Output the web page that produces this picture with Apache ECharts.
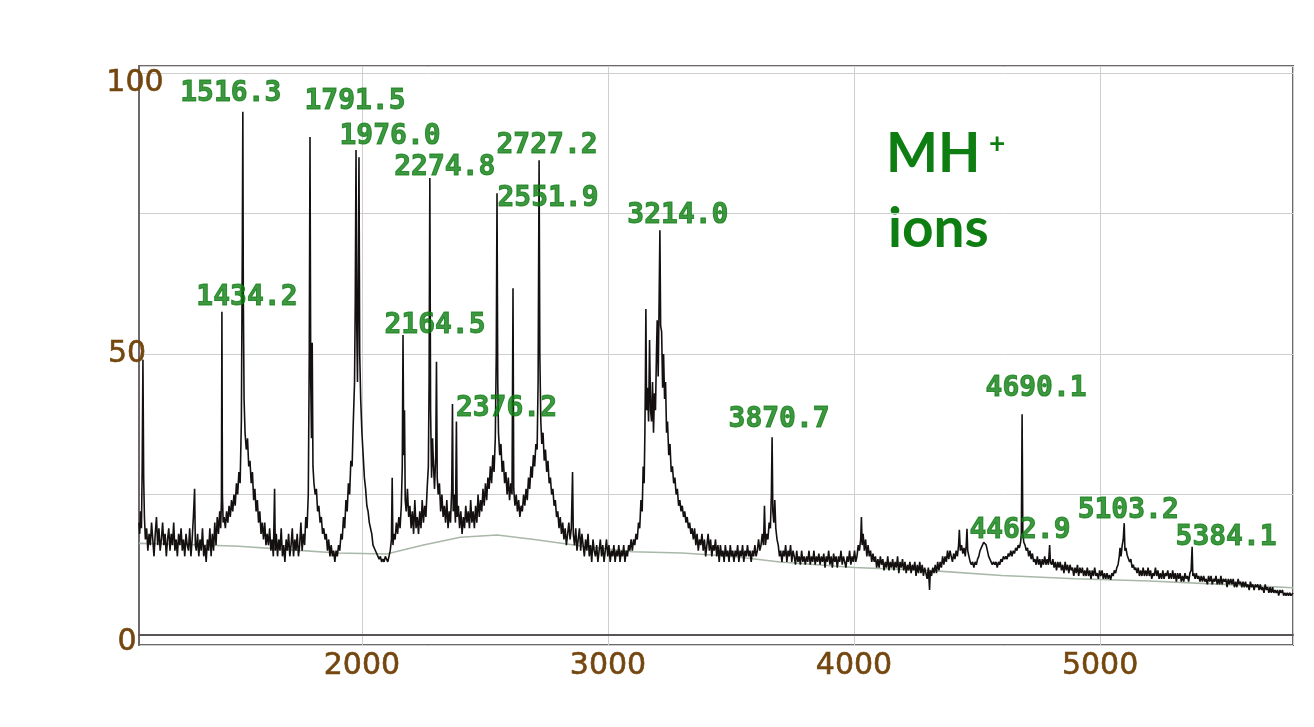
<!DOCTYPE html>
<html><head><meta charset="utf-8">
<script src="https://cdn.jsdelivr.net/npm/echarts@6/dist/echarts.min.js"></script>
<style>html,body{margin:0;padding:0;background:#ffffff}#c{width:1314px;height:727px}</style>
</head><body><div id="c"></div>
<script>
// ---- data ----
const xTickLabels = [2000, 3000, 4000, 5000];
const yTickLabels = [0, 50, 100];

const spectrum = [
[1094,20],[1097,18],[1100,22],[1104,19],[1107,30],[1110,49],[1113,28],[1116,21],[1120,17],[1125,19],[1130,15],[1135,18],[1140,16],[1145,20],[1150,17],[1155,14],[1160,18],[1165,21],[1170,16],[1175,19],[1180,15],[1185,17],[1190,20],[1195,16],[1200,18],[1205,14],[1210,17],[1215,19],[1220,15],[1225,18],[1230,16],[1235,20],[1240,15],[1245,17],[1250,14],[1255,18],[1260,16],[1265,19],[1270,15],[1275,17],[1280,14],[1285,18],[1290,16],[1295,15],[1300,19],[1305,14],[1310,17],[1315,21],[1320,26],[1323,16],[1327,15],[1332,18],[1337,14],[1342,17],[1347,15],[1352,19],[1357,14],[1362,16],[1367,13],[1372,17],[1377,15],[1382,19],[1387,14],[1392,18],[1397,15],[1402,20],[1407,16],[1412,21],[1417,18],[1422,22],[1426,19],[1429,24],[1431,57.5],[1433,25],[1436,20],[1440,21],[1445,19],[1450,22],[1455,20],[1460,23],[1465,21],[1470,24],[1475,22],[1480,25],[1485,23],[1490,27],[1495,25],[1500,29],[1505,27],[1510,38],[1514,70],[1516,93.1],[1518,60],[1521,42],[1525,36],[1530,33],[1535,35],[1540,30],[1545,31],[1550,27],[1555,29],[1560,24],[1565,26],[1570,22],[1575,24],[1580,20],[1585,22],[1590,18],[1595,20],[1600,17],[1605,20],[1610,16],[1615,18],[1620,16],[1625,19],[1630,15],[1635,17],[1640,14],[1645,26],[1648,15],[1652,18],[1657,14],[1662,17],[1667,15],[1672,19],[1677,14],[1682,16],[1687,13],[1692,17],[1697,15],[1702,18],[1707,14],[1712,16],[1717,19],[1722,14],[1727,17],[1732,15],[1737,18],[1742,14],[1747,16],[1752,20],[1757,15],[1762,18],[1767,16],[1772,21],[1777,19],[1782,25],[1786,50],[1789,88.6],[1792,45],[1795,35],[1798,52],[1801,30],[1805,27],[1810,25],[1815,26],[1820,22],[1825,23],[1830,20],[1835,21],[1840,18],[1845,19],[1850,17],[1855,18],[1860,15],[1865,17],[1870,14],[1875,16],[1880,14],[1885,15],[1890,13],[1895,15],[1900,14],[1905,16],[1910,15],[1915,18],[1920,17],[1925,21],[1930,19],[1935,24],[1940,22],[1945,27],[1950,25],[1955,31],[1960,30],[1965,38],[1970,45],[1973,60],[1976,86.3],[1979,55],[1982,45],[1985,62],[1988,85],[1991,50],[1995,42],[2000,36],[2005,32],[2010,28],[2015,26],[2020,23],[2025,22],[2030,20],[2035,19],[2040,18],[2045,16],[2050,16],[2055,15],[2060,14.5],[2065,14],[2070,13.5],[2075,14],[2080,13],[2085,13.5],[2090,13],[2095,14],[2100,13.5],[2105,13],[2110,14],[2115,15],[2120,17],[2123,28],[2126,16],[2130,18],[2135,17],[2140,20],[2145,18],[2150,21],[2155,19],[2160,23],[2164,30],[2167,53.4],[2170,32],[2173,40],[2176,24],[2180,22],[2185,26],[2190,21],[2195,23],[2200,19],[2205,22],[2210,18],[2215,24],[2220,19],[2225,21],[2230,18],[2235,22],[2240,19],[2245,24],[2250,20],[2255,23],[2260,21],[2265,26],[2270,30],[2273,45],[2276,81.3],[2279,40],[2283,28],[2287,35],[2291,30],[2295,26],[2300,32],[2303,48.6],[2306,28],[2310,25],[2315,27],[2320,22],[2325,25],[2330,21],[2335,23],[2340,20],[2345,24],[2350,19],[2355,22],[2360,20],[2365,26],[2368,41.1],[2371,22],[2375,25],[2380,20],[2384,38],[2387,21],[2392,23],[2397,19],[2402,22],[2407,18],[2412,21],[2417,19],[2422,23],[2427,20],[2432,22],[2437,19],[2442,24],[2447,20],[2452,22],[2457,19],[2462,23],[2467,20],[2472,25],[2477,21],[2482,24],[2487,22],[2492,26],[2497,23],[2502,27],[2507,24],[2512,28],[2517,26],[2522,30],[2527,27],[2532,32],[2537,29],[2542,35],[2546,50],[2549,78.6],[2552,45],[2555,36],[2560,32],[2565,34],[2570,29],[2575,31],[2580,27],[2585,29],[2590,25],[2595,28],[2600,24],[2605,27],[2610,25],[2614,61.7],[2617,26],[2622,23],[2627,25],[2632,22],[2637,24],[2642,21],[2647,23],[2652,22],[2657,25],[2662,23],[2667,26],[2672,24],[2677,28],[2682,26],[2687,30],[2692,28],[2697,32],[2702,30],[2707,34],[2712,33],[2716,45],[2720,84.5],[2723,50],[2727,38],[2731,34],[2736,36],[2741,31],[2746,33],[2751,29],[2756,31],[2761,27],[2766,28],[2771,25],[2776,26],[2781,23],[2786,24],[2791,21],[2796,22],[2801,19],[2806,21],[2811,18],[2816,20],[2821,17],[2826,19],[2831,16],[2836,18],[2841,20],[2846,17],[2851,19],[2856,29],[2859,18],[2864,16],[2869,19],[2874,15],[2879,17],[2884,19],[2889,15],[2894,18],[2899,16],[2904,14],[2909,17],[2914,15],[2919,18],[2924,14],[2929,16],[2934,13],[2939,17],[2944,15],[2949,14],[2954,16],[2959,13],[2964,15],[2969,17],[2974,14],[2979,16],[2984,13],[2989,15],[2994,17],[2999,14],[3004,16],[3009,13],[3014,15],[3019,14],[3024,16],[3029,13],[3034,15],[3039,14],[3044,16],[3049,13],[3054,15],[3059,14],[3064,16],[3069,13],[3074,15],[3079,14],[3084,16],[3089,15],[3094,17],[3099,15],[3104,17],[3109,16],[3114,18],[3119,17],[3124,20],[3129,19],[3134,24],[3139,22],[3143,30],[3147,27],[3150,36],[3152,45],[3154,58],[3157,40],[3161,44],[3165,38],[3169,52.5],[3173,40],[3177,38],[3181,45],[3185,36],[3189,43],[3193,40],[3197,50],[3200,56],[3204,46],[3208,60],[3211,72],[3214,55],[3218,54],[3222,44],[3226,50],[3230,42],[3234,45],[3238,36],[3242,38],[3247,32],[3252,34],[3257,29],[3262,30],[3267,27],[3272,28],[3277,25],[3282,26],[3287,23],[3292,24],[3297,22],[3302,23],[3307,21],[3312,22],[3317,20],[3322,21],[3327,19],[3332,20],[3337,18],[3342,19],[3347,17],[3352,19],[3357,16],[3362,18],[3367,15],[3372,17],[3377,16],[3382,18],[3387,15],[3392,17],[3397,14],[3402,16],[3407,18],[3412,15],[3417,17],[3422,14],[3427,16],[3432,15],[3437,17],[3442,14],[3447,16],[3452,13],[3457,16],[3462,14],[3467,15],[3472,13],[3477,16],[3482,14],[3487,15],[3492,13],[3497,16],[3502,14],[3507,15],[3512,13],[3517,15],[3522,14],[3527,16],[3532,13],[3537,15],[3542,14],[3547,16],[3552,13],[3557,15],[3562,14],[3567,16],[3572,14],[3577,15],[3582,13],[3587,15],[3592,14],[3597,16],[3602,14],[3607,15],[3612,17],[3617,15],[3622,16],[3627,18],[3632,16],[3636,23],[3640,16],[3645,18],[3650,17],[3655,20],[3660,19],[3664,25],[3667,35.2],[3670,22],[3674,20],[3678,24],[3682,19],[3687,17],[3692,16],[3697,14],[3702,15],[3707,13],[3712,15],[3717,14],[3722,16],[3727,13],[3732,15],[3737,14],[3742,16],[3747,13],[3752,15],[3757,14],[3762,12.5],[3767,15],[3772,13],[3777,14],[3782,12.5],[3787,15],[3792,13],[3797,14],[3802,12.5],[3807,14],[3812,13],[3817,15],[3822,12.5],[3827,14],[3832,13],[3837,15],[3842,12.5],[3847,14],[3852,13],[3857,14.5],[3862,12.5],[3867,14],[3872,13],[3877,14.5],[3882,12],[3887,14],[3892,13],[3897,15],[3902,12.5],[3907,14],[3912,12],[3917,14.5],[3922,13],[3927,14],[3932,12],[3937,14],[3942,13],[3947,15],[3952,12.5],[3957,14],[3962,13],[3967,12],[3972,14],[3977,13],[3982,15],[3987,12.5],[3992,14],[3997,13],[4002,15],[4007,13],[4012,14],[4017,16],[4022,15],[4027,17],[4030,21],[4033,16],[4037,18],[4042,15],[4047,17],[4052,14],[4057,16],[4062,14],[4067,15],[4072,13],[4077,14.5],[4082,13],[4087,14],[4092,12],[4097,13.5],[4102,12],[4107,14],[4112,12.5],[4117,13.5],[4122,11.5],[4127,13],[4132,12],[4137,14],[4142,11.5],[4147,13],[4152,12],[4157,13.5],[4162,11.5],[4167,13],[4172,12],[4177,14],[4182,11],[4187,13],[4192,12],[4197,13.5],[4202,11.5],[4207,13],[4212,11],[4217,12.5],[4222,11.5],[4227,13],[4232,11],[4237,12.5],[4242,11.5],[4247,13],[4252,10.5],[4257,12.5],[4262,11],[4267,13],[4272,11],[4277,12.5],[4282,10.5],[4287,12],[4292,11],[4297,10],[4302,12],[4307,8],[4310,11.5],[4315,10.5],[4320,12],[4325,11],[4330,12.5],[4335,11],[4340,13],[4345,11.5],[4350,13],[4355,12],[4360,14],[4365,12.5],[4370,14],[4375,13],[4380,15],[4385,13.5],[4390,15],[4395,14],[4400,13],[4405,14.5],[4410,13.5],[4415,15],[4420,14],[4425,16],[4428,18.7],[4432,15],[4437,16],[4442,14.5],[4447,15.5],[4452,14],[4456,16],[4459,18.9],[4462,15],[4467,14],[4472,13],[4477,12.5],[4482,13],[4487,12],[4492,13],[4497,12.5],[4502,13.5],[4507,14],[4512,15],[4517,15.5],[4522,16],[4527,16.5],[4532,16.4],[4537,16],[4542,15],[4547,14],[4552,13.5],[4557,13],[4562,12.5],[4567,13],[4572,12.5],[4577,13],[4582,12],[4587,13],[4592,12.5],[4597,13.5],[4602,13],[4607,14],[4612,13.5],[4617,14],[4622,13.5],[4627,14.5],[4632,14],[4637,15],[4642,14],[4647,15],[4652,14.5],[4657,15.5],[4662,15],[4667,16],[4672,15.5],[4677,16.5],[4680,18],[4683,39.3],[4686,18],[4690,16.5],[4695,16],[4700,15],[4705,15.5],[4710,14],[4715,15],[4720,13.5],[4725,14.5],[4730,13],[4735,13.5],[4740,12.5],[4745,14],[4750,12.5],[4755,13.5],[4760,12],[4765,13.5],[4770,12.5],[4775,14],[4780,12.5],[4785,13.5],[4790,12.5],[4795,16],[4798,13],[4803,12.5],[4808,13.5],[4813,12],[4818,13],[4823,11.5],[4828,13],[4833,12],[4838,13],[4843,11.5],[4848,12.5],[4853,11],[4858,13],[4863,11.5],[4868,12.5],[4873,11],[4878,12.5],[4883,11.5],[4888,12],[4893,10.5],[4898,12],[4903,11],[4908,12.5],[4913,10.5],[4918,12],[4923,11],[4928,12],[4933,10.5],[4938,11.5],[4943,10.5],[4948,12],[4953,10.5],[4958,11.5],[4963,10],[4968,11.5],[4973,10.5],[4978,12],[4983,10.5],[4988,11],[4993,10],[4998,11.5],[5003,10.5],[5008,11.5],[5013,10],[5018,11],[5023,10],[5028,11],[5033,10],[5038,10.7],[5043,9.8],[5048,11],[5053,10.5],[5058,11.5],[5063,11],[5068,12],[5073,12.5],[5078,14],[5081,15.5],[5085,14],[5090,16],[5094,17],[5098,19.9],[5101,15],[5105,15.5],[5110,14.2],[5115,14.5],[5120,13],[5125,13.5],[5130,12],[5135,12.5],[5140,11.6],[5145,12],[5150,11],[5155,12],[5160,10.5],[5165,11.5],[5170,10.5],[5175,12],[5180,10.5],[5185,11.5],[5190,10.5],[5195,12],[5200,10.5],[5205,11.5],[5210,10],[5215,11],[5220,10.5],[5225,12],[5230,10.5],[5235,11.5],[5240,10],[5245,11],[5250,10],[5255,11.5],[5260,10],[5265,11],[5270,10.5],[5275,11.5],[5280,10],[5285,11],[5290,10],[5295,11.5],[5300,10],[5305,11],[5310,9.5],[5315,11],[5320,10],[5325,11],[5330,9.5],[5335,10.5],[5340,9.5],[5345,11],[5350,10],[5355,10.5],[5360,9.5],[5365,11],[5370,11.5],[5374,15.7],[5377,10.5],[5381,11],[5386,10],[5391,11],[5396,10],[5401,10.5],[5406,9.5],[5411,10.5],[5416,9.5],[5421,10.5],[5426,9.5],[5431,10],[5436,9],[5441,10.5],[5446,9.5],[5451,10.5],[5456,9],[5461,10],[5466,9.5],[5471,10.5],[5476,9],[5481,10],[5486,9],[5491,10.5],[5496,9],[5501,10],[5506,9.5],[5511,10],[5516,8.5],[5521,10],[5526,9],[5531,10],[5536,9],[5541,10],[5546,8.5],[5551,9.5],[5556,8.5],[5561,10],[5566,9],[5571,9.5],[5576,8.5],[5581,9.5],[5586,8.5],[5591,9.5],[5596,8.5],[5601,9],[5606,8],[5611,9.5],[5616,8.5],[5621,9],[5626,8],[5631,9],[5636,8.5],[5641,9],[5646,8],[5651,9],[5656,8],[5661,8.5],[5666,7.5],[5671,9],[5676,8],[5681,8.5],[5686,7.5],[5691,8.5],[5696,7.5],[5701,8.5],[5706,7.5],[5711,8],[5716,7.5],[5721,8],[5726,7],[5731,8],[5736,7.5],[5741,8],[5746,7],[5751,7.5],[5756,7],[5761,7.5],[5766,7],[5771,7.5],[5776,7],[5784,7.5]
];

const baseline = [
[1094,16.3],[1300,16.1],[1500,15.8],[1700,15.2],[1900,14.6],[2100,14.4],[2250,16.0],[2400,17.4],[2550,17.8],[2700,17.0],[2900,15.8],[3100,14.8],[3300,14.6],[3500,14.0],[3700,13.0],[4000,12.0],[4300,11.5],[4600,10.6],[4900,10.0],[5200,9.6],[5500,9.0],[5784,8.4]
];

const peakLabels = ['1434.2','1516.3','1791.5','1976.0','2164.5','2274.8','2376.2','2551.9','2727.2','3214.0','3870.7','4462.9','4690.1','5103.2','5384.1'];
const peakMz     = [1431, 1516, 1789, 1976, 2167, 2276, 2368, 2549, 2720, 3211, 3667, 4459, 4683, 5098, 5374];
const peakHeight = [57.5, 93.1, 88.6, 86.3, 53.4, 81.3, 41.1, 78.6, 84.5, 72, 35.2, 18.9, 39.3, 19.9, 15.7];

// ---- layout / style ----
const labelOffsets = [[25,-14],[-12,-18],[45,-35],[34,-13],[32,-9],[15,-10],[54,5],[51,5],[8,-14],[18,-15],[7,-17],[53,2],[14,-25],[4,-12],[34,-9]];
const GREEN = '#0e7d12';
const BROWN = '#74470f';

const chart = echarts.init(document.getElementById('c'), null, {renderer: 'canvas'});

const labelData = peakMz.map((m, i) => ({
  value: [m, peakHeight[i]],
  name: peakLabels[i],
  label: {offset: labelOffsets[i]}
}));

chart.setOption({
  animation: false,
  backgroundColor: '#ffffff',
  grid: {left: 139, right: 21, top: 66, bottom: 82, show: true, borderColor: '#6f6868', borderWidth: 2, backgroundColor: '#ffffff'},
  xAxis: {
    type: 'value', min: 1094, max: 5784, minInterval: 1000, maxInterval: 1000,
    axisLine: {show: true, lineStyle: {color: '#5a5555', width: 2}},
    axisTick: {show: false},
    splitLine: {show: true, lineStyle: {color: '#cfcfcf', width: 1}},
    axisLabel: {
      show: true, showMinLabel: false, showMaxLabel: false, margin: 6,
      color: BROWN, fontFamily: 'DejaVu Sans', fontSize: 30,
      textBorderColor: BROWN, textBorderWidth: 0.6,
      formatter: v => xTickLabels.includes(v) ? String(v) : ''
    }
  },
  yAxis: {
    type: 'value', min: -1.78, max: 101.25, minInterval: 25, maxInterval: 25,
    axisLine: {show: true, lineStyle: {color: '#6f6868', width: 2}},
    axisTick: {show: false},
    splitLine: {show: true, lineStyle: {color: '#cfcfcf', width: 1}},
    axisLabel: {
      show: true, showMinLabel: false, showMaxLabel: false, margin: 12, align: 'center',
      color: BROWN, fontFamily: 'DejaVu Sans', fontSize: 30,
      textBorderColor: BROWN, textBorderWidth: 0.6,
      formatter: v => {
        if (!yTickLabels.includes(v)) return '';
        if (v === 100) return '{hi|' + v + '}';
        if (v === 0) return '{lo|' + v + '}';
        return String(v);
      },
      rich: {
        hi: {fontFamily: 'DejaVu Sans', fontSize: 30, color: BROWN, textBorderColor: BROWN, textBorderWidth: 0.6, padding: [20, 0, 0, 16]},
        lo: {fontFamily: 'DejaVu Sans', fontSize: 30, color: BROWN, textBorderColor: BROWN, textBorderWidth: 0.6, padding: [14, 0, 0, 0]}
      }
    }
  },
  series: [
    {
      type: 'line', data: baseline, showSymbol: false, silent: true, z: 2,
      lineStyle: {color: '#a9b8a9', width: 1.6}
    },
    {
      type: 'line', data: spectrum, showSymbol: false, silent: true, z: 3,
      lineStyle: {color: '#141010', width: 1.6}
    },
    {
      type: 'scatter', data: labelData, symbolSize: 0, z: 5, silent: true,
      label: {
        show: true, position: 'inside', formatter: p => p.name,
        color: GREEN, fontFamily: 'DejaVu Sans Mono', fontWeight: 'bold', fontSize: 28,
        textBorderColor: GREEN, textBorderWidth: 1
      }
    }
  ],
  graphic: [
    {type: 'text', x: 886, y: 154, style: {text: 'MH', fill: GREEN, font: 'bold 55px Lato', textAlign: 'left', textVerticalAlign: 'middle'}},
    {type: 'text', x: 989, y: 144, style: {text: '+', fill: GREEN, font: 'bold 28px Lato', textAlign: 'left', textVerticalAlign: 'middle'}},
    {type: 'text', x: 888, y: 229, style: {text: 'ions', fill: GREEN, font: 'bold 55px Lato', textAlign: 'left', textVerticalAlign: 'middle'}}
  ]
});
</script>
</body></html>
